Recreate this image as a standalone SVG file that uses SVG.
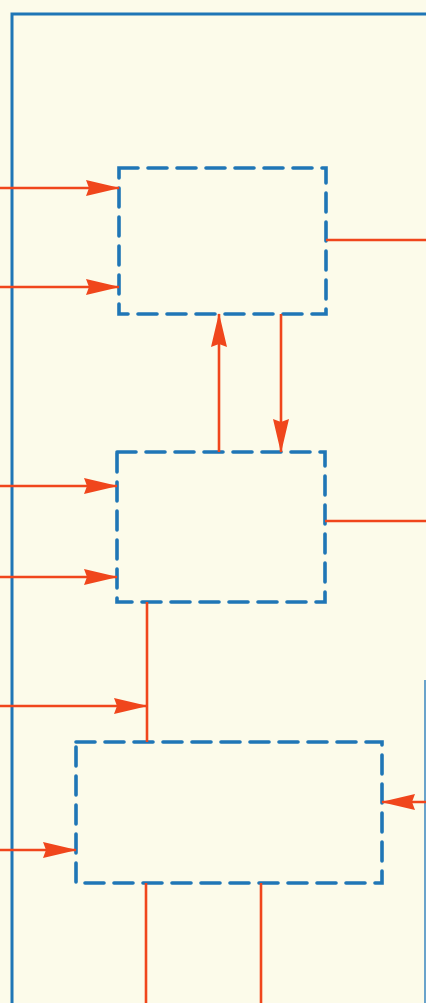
<svg xmlns="http://www.w3.org/2000/svg" width="426" height="1003" viewBox="0 0 426 1003">
  <style>
    .frame { fill: none; stroke: #1f76b6; stroke-width: 3; }
    .frame-thin { fill: none; stroke: #3a86c0; stroke-width: 1.5; }
    .block { fill: none; stroke: #1f76b6; stroke-width: 3.6; stroke-dasharray: 19 10; stroke-linecap: round; }
    .wire { fill: none; stroke: #f0461c; stroke-width: 2.6; }
  </style>
  <defs>
    <marker id="head" markerUnits="userSpaceOnUse" markerWidth="34" markerHeight="20" viewBox="0 0 34 20" refX="33" refY="10" orient="auto">
      <path d="M0,2 L34,10 L0,18 L3,10 Z" fill="#f0461c"/>
    </marker>
  </defs>

  <rect width="426" height="1003" fill="#fcfbea"/>

  <!-- outer frame -->
  <g id="frame">
    <path class="frame" d="M12,1003 V14 H426"/>
    <path class="frame-thin" d="M425,680 V1003"/>
  </g>

  <!-- blocks -->
  <g id="block-1">
    <rect class="block" x="119" y="168" width="207" height="146"/>
  </g>
  <g id="block-2">
    <rect class="block" x="117" y="452" width="208" height="150"/>
  </g>
  <g id="block-3">
    <rect class="block" x="76" y="742" width="306" height="141"/>
  </g>

  <!-- connectors -->
  <g id="connectors">
    <line class="wire" x1="0" y1="188" x2="119" y2="188" marker-end="url(#head)"/>
    <line class="wire" x1="0" y1="287" x2="119" y2="287" marker-end="url(#head)"/>
    <line class="wire" x1="326" y1="240" x2="426" y2="240"/>
    <line class="wire" x1="219" y1="452" x2="219" y2="314" marker-end="url(#head)"/>
    <line class="wire" x1="281" y1="314" x2="281" y2="452" marker-end="url(#head)"/>
    <line class="wire" x1="0" y1="486" x2="117" y2="486" marker-end="url(#head)"/>
    <line class="wire" x1="0" y1="577" x2="117" y2="577" marker-end="url(#head)"/>
    <line class="wire" x1="325" y1="521" x2="426" y2="521"/>
    <line class="wire" x1="147" y1="602" x2="147" y2="742"/>
    <line class="wire" x1="0" y1="706" x2="147" y2="706" marker-end="url(#head)"/>
    <line class="wire" x1="0" y1="850" x2="76" y2="850" marker-end="url(#head)"/>
    <line class="wire" x1="426" y1="802" x2="382" y2="802" marker-end="url(#head)"/>
    <line class="wire" x1="146" y1="883" x2="146" y2="1003"/>
    <line class="wire" x1="261" y1="883" x2="261" y2="1003"/>
  </g>
</svg>
